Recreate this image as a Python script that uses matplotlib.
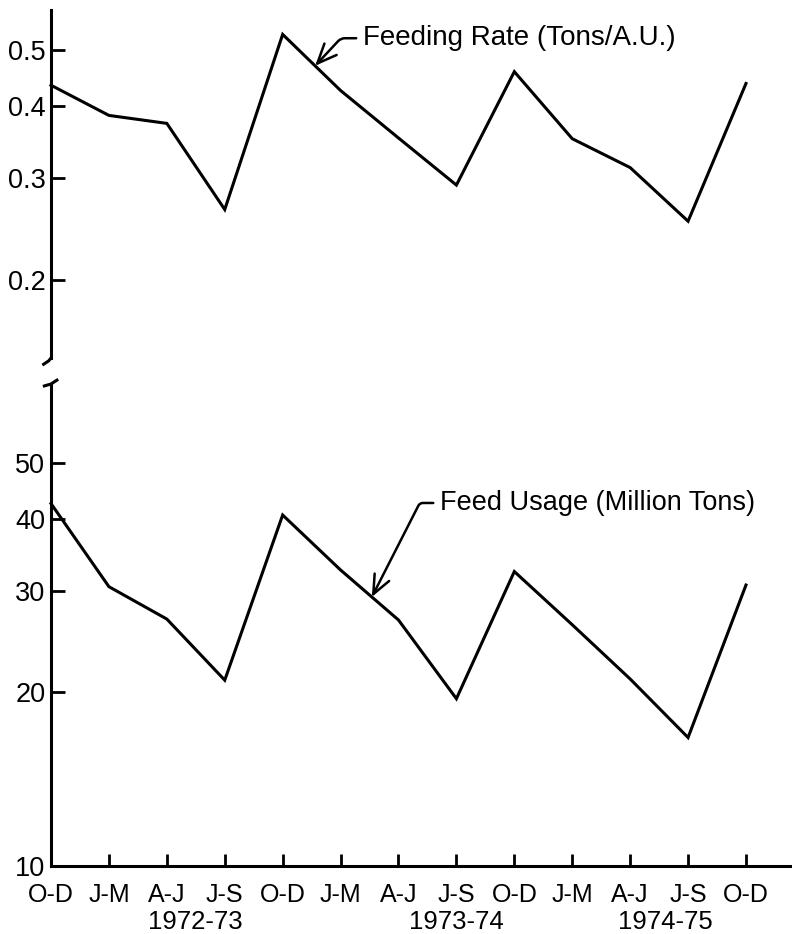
import numpy as np
import matplotlib
matplotlib.use("Agg")
import matplotlib.pyplot as plt
from matplotlib.ticker import FixedLocator, NullLocator, FixedFormatter

plt.rcParams['font.family'] = ['Liberation Sans', 'DejaVu Sans']

quarters = ["O-D", "J-M", "A-J", "J-S", "O-D", "J-M", "A-J", "J-S",
            "O-D", "J-M", "A-J", "J-S", "O-D"]
seasons = ["1972-73", "1973-74", "1974-75"]
season_pos = [2.5, 7.0, 10.6]

feeding_rate = [0.434, 0.385, 0.373, 0.265, 0.531, 0.425, 0.352, 0.292,
                0.458, 0.351, 0.313, 0.253, 0.437]
feed_usage = [42.5, 30.5, 26.8, 21.0, 40.6, 32.6, 26.7, 19.5,
              32.4, 26.2, 21.1, 16.7, 30.7]

rate_ticks = [0.2, 0.3, 0.4, 0.5]
usage_ticks = [10, 20, 30, 40, 50]

x = np.arange(len(quarters))
lw = 2.2
W, H = 792, 934

fig = plt.figure(figsize=(W / 100, H / 100), dpi=100)
left = 51 / W
width = 739 / W
ax_top = fig.add_axes([left, 1 - 358 / H, width, 348 / H])
ax_bot = fig.add_axes([left, 1 - 866 / H, width, 482 / H])

xlim = (0, 12.76)
for ax in (ax_top, ax_bot):
    ax.set_yscale('log')
    ax.set_xlim(*xlim)
    for s in ('top', 'right'):
        ax.spines[s].set_visible(False)
    ax.spines['left'].set_linewidth(lw)
    ax.spines['bottom'].set_linewidth(lw)
    ax.yaxis.set_minor_locator(NullLocator())
    ax.tick_params(axis='y', direction='in', length=10, width=2,
                   labelsize=19.5, pad=4)

# top panel: feeding rate
ax_top.set_ylim(0.147, 0.585)
ax_top.spines['bottom'].set_visible(False)
ax_top.set_xticks([])
ax_top.yaxis.set_major_locator(FixedLocator(rate_ticks))
ax_top.yaxis.set_major_formatter(FixedFormatter([str(t) for t in rate_ticks]))
ax_top.plot(x, feeding_rate, color='black', lw=lw, clip_on=False,
            solid_joinstyle='miter')

# bottom panel: feed usage
ax_bot.set_ylim(10, 68.5)
ax_bot.yaxis.set_major_locator(FixedLocator(usage_ticks))
ax_bot.yaxis.set_major_formatter(FixedFormatter([str(t) for t in usage_ticks]))
ax_bot.plot(x, feed_usage, color='black', lw=lw, clip_on=False,
            solid_joinstyle='miter')
ax_bot.set_xticks(x)
ax_bot.set_xticklabels(quarters, fontsize=18)
ax_bot.tick_params(axis='x', direction='in', length=9, width=2, pad=12)
ax_bot.xaxis.set_minor_locator(NullLocator())
for pos, lab in zip(season_pos, seasons):
    ax_bot.annotate(lab, xy=(pos, 0), xycoords=('data', 'axes fraction'),
                    xytext=(0, -56), textcoords='offset pixels',
                    ha='center', va='center', fontsize=18.5)

# axis break marks
ax_top.plot([0, -0.003, -0.010], [0, -0.008, -0.018], color='black',
            lw=lw, transform=ax_top.transAxes, clip_on=False)
ax_bot.plot([-0.009, 0.0, 0.008], [0.996, 1.0, 1.008], color='black',
            lw=lw, transform=ax_bot.transAxes, clip_on=False)


def on_line(xq, vals):
    return float(np.exp(np.interp(xq, x, np.log(vals))))


arrow = dict(arrowstyle='->,head_length=0.7,head_width=0.3', color='black',
             lw=1.8, shrinkA=3, shrinkB=0, relpos=(0, 0.5))

ax_top.annotate("Feeding Rate (Tons/A.U.)",
                xy=(4.56, on_line(4.56, feeding_rate)),
                xytext=(5.39, 0.523), ha='left', va='center', fontsize=20,
                arrowprops=dict(arrow,
                                connectionstyle='angle,angleA=0,angleB=47,rad=4'))

ax_bot.annotate("Feed Usage (Million Tons)",
                xy=(5.54, on_line(5.54, feed_usage)),
                xytext=(6.72, 42.6), ha='left', va='center', fontsize=19.5,
                arrowprops=dict(arrow,
                                connectionstyle='angle,angleA=0,angleB=63,rad=3'))

fig.savefig("out.png", dpi=100)
